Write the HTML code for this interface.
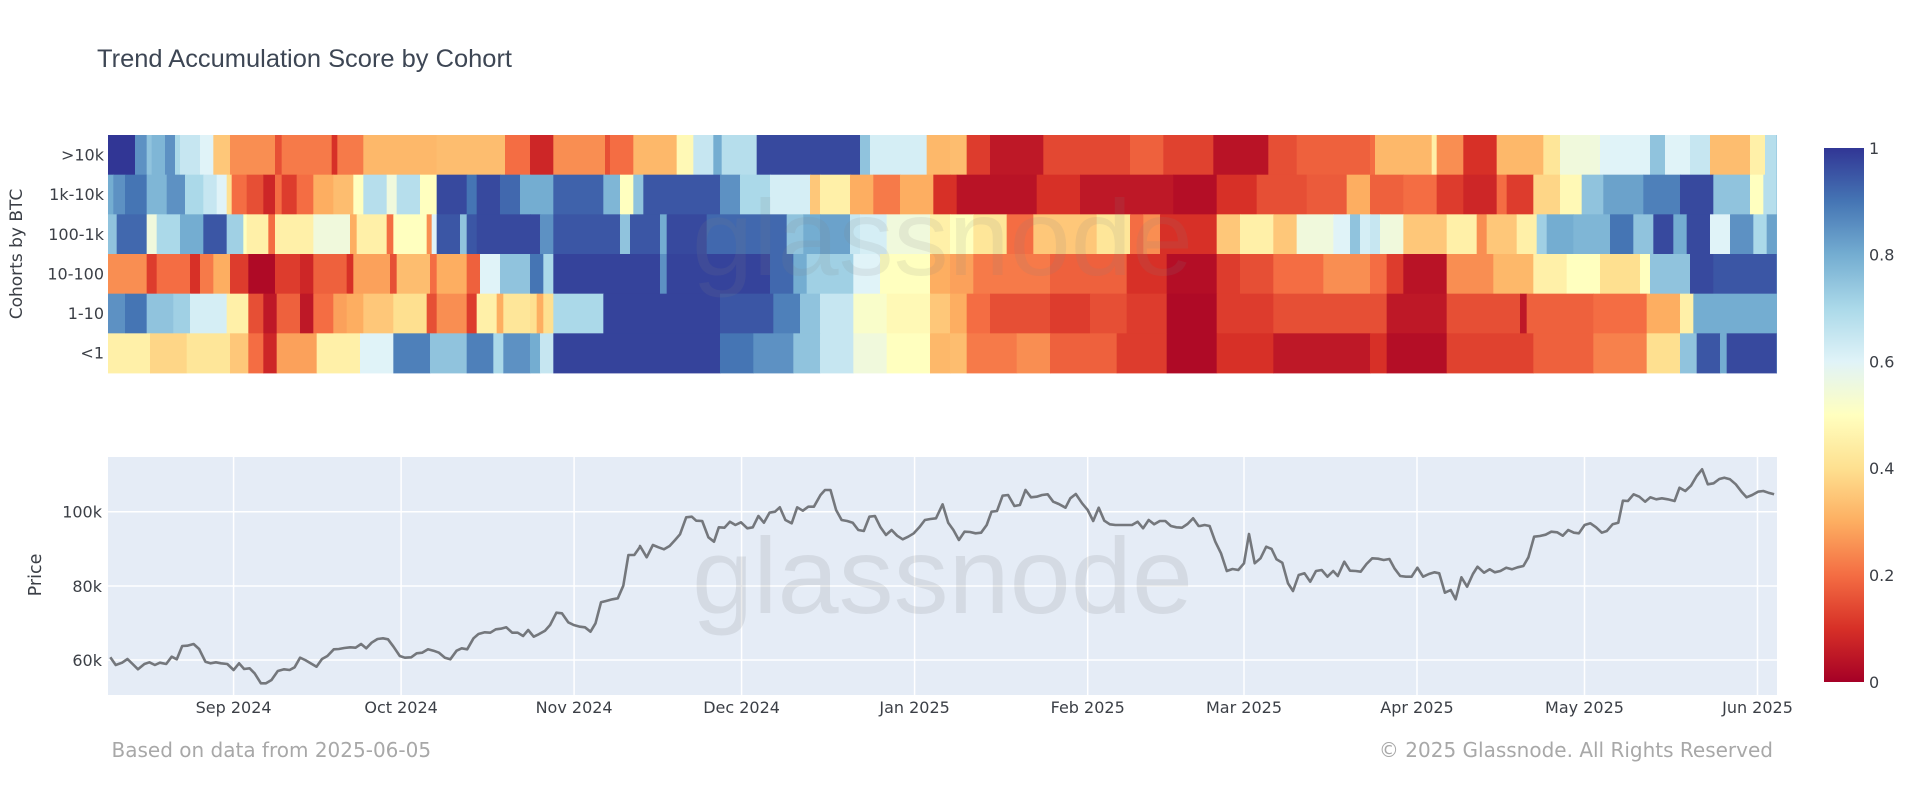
<!DOCTYPE html>
<html><head><meta charset="utf-8"><style>
html,body{margin:0;padding:0;background:#fff;}
svg{display:block;}
</style></head><body>
<svg id="s" width="1920" height="803" viewBox="0 0 1920 803" xmlns="http://www.w3.org/2000/svg">
<defs>
<linearGradient id="cb" x1="0" y1="0" x2="0" y2="1">
<stop offset="0" stop-color="rgb(49,54,149)"/>
<stop offset="0.1" stop-color="rgb(69,117,180)"/>
<stop offset="0.2" stop-color="rgb(116,173,209)"/>
<stop offset="0.3" stop-color="rgb(171,217,233)"/>
<stop offset="0.4" stop-color="rgb(224,243,248)"/>
<stop offset="0.5" stop-color="rgb(255,255,191)"/>
<stop offset="0.6" stop-color="rgb(254,224,144)"/>
<stop offset="0.7" stop-color="rgb(253,174,97)"/>
<stop offset="0.8" stop-color="rgb(244,109,67)"/>
<stop offset="0.9" stop-color="rgb(215,48,39)"/>
<stop offset="1" stop-color="rgb(165,0,38)"/>
</linearGradient>
<clipPath id="pc"><rect x="108" y="457" width="1669" height="238"/></clipPath>
<clipPath id="hc"><rect x="108" y="135" width="1669" height="238"/></clipPath>
</defs>
<rect width="1920" height="803" fill="#fff"/>

<text x="97" y="67" font-family="Liberation Sans, sans-serif" font-size="25" fill="#3d4654" textLength="415" lengthAdjust="spacingAndGlyphs">Trend Accumulation Score by Cohort</text>

<g id="heat"></g>
<text x="692" y="275" clip-path="url(#hc)" font-family="Liberation Sans, sans-serif" font-size="108" fill="#808080" fill-opacity="0.13" textLength="501" lengthAdjust="spacingAndGlyphs">glassnode</text>

<g font-family="DejaVu Sans, sans-serif" font-size="16" fill="#3b3f46" text-anchor="end">
<text x="104" y="160.6">&gt;10k</text>
<text x="104" y="200.2">1k-10k</text>
<text x="104" y="239.8">100-1k</text>
<text x="104" y="279.4">10-100</text>
<text x="104" y="319">1-10</text>
<text x="104" y="358.6">&lt;1</text>
</g>
<text transform="translate(22,254) rotate(-90)" text-anchor="middle" font-family="DejaVu Sans, sans-serif" font-size="17" fill="#3b3f46">Cohorts by BTC</text>

<rect x="108" y="457" width="1669" height="238" fill="#e5ecf6"/>
<g stroke="#ffffff" stroke-width="1.5">
<line x1="108" x2="1777" y1="511.7" y2="511.7"/>
<line x1="108" x2="1777" y1="586" y2="586"/>
<line x1="108" x2="1777" y1="660" y2="660"/>
<line x1="233.6" x2="233.6" y1="457" y2="695"/>
<line x1="401.1" x2="401.1" y1="457" y2="695"/>
<line x1="574.1" x2="574.1" y1="457" y2="695"/>
<line x1="741.6" x2="741.6" y1="457" y2="695"/>
<line x1="914.6" x2="914.6" y1="457" y2="695"/>
<line x1="1087.7" x2="1087.7" y1="457" y2="695"/>
<line x1="1244" x2="1244" y1="457" y2="695"/>
<line x1="1417" x2="1417" y1="457" y2="695"/>
<line x1="1584.5" x2="1584.5" y1="457" y2="695"/>
<line x1="1757.5" x2="1757.5" y1="457" y2="695"/>
</g>
<text x="692" y="613" clip-path="url(#pc)" font-family="Liberation Sans, sans-serif" font-size="108" fill="#000" fill-opacity="0.075" textLength="501" lengthAdjust="spacingAndGlyphs">glassnode</text>
<polyline id="pl" clip-path="url(#pc)" fill="none" stroke="#74777c" stroke-width="2.6" stroke-linejoin="round" points=""/>

<g font-family="DejaVu Sans, sans-serif" font-size="16" fill="#3b3f46" text-anchor="end">
<text x="102" y="517.5">100k</text>
<text x="102" y="591.8">80k</text>
<text x="102" y="665.8">60k</text>
</g>
<text transform="translate(41,575) rotate(-90)" text-anchor="middle" font-family="DejaVu Sans, sans-serif" font-size="17.5" fill="#3b3f46">Price</text>

<g font-family="DejaVu Sans, sans-serif" font-size="16" fill="#3b3f46" text-anchor="middle">
<text x="233.6" y="713">Sep 2024</text>
<text x="401.1" y="713">Oct 2024</text>
<text x="574.1" y="713">Nov 2024</text>
<text x="741.6" y="713">Dec 2024</text>
<text x="914.6" y="713">Jan 2025</text>
<text x="1087.7" y="713">Feb 2025</text>
<text x="1244" y="713">Mar 2025</text>
<text x="1417" y="713">Apr 2025</text>
<text x="1584.5" y="713">May 2025</text>
<text x="1757.5" y="713">Jun 2025</text>
</g>

<rect x="1824" y="148" width="40" height="534" fill="url(#cb)"/>
<g font-family="DejaVu Sans, sans-serif" font-size="16" fill="#3b3f46">
<text x="1869" y="153.8">1</text>
<text x="1869" y="260.6">0.8</text>
<text x="1869" y="367.4">0.6</text>
<text x="1869" y="474.2">0.4</text>
<text x="1869" y="581">0.2</text>
<text x="1869" y="687.8">0</text>
</g>

<text x="111.5" y="757" font-family="DejaVu Sans, sans-serif" font-size="20" fill="#a8a8a8">Based on data from 2025-06-05</text>
<text x="1773" y="757" text-anchor="end" font-family="DejaVu Sans, sans-serif" font-size="20" fill="#a8a8a8">© 2025 Glassnode. All Rights Reserved</text>
</svg>
<script>
(function(){
const NS="http://www.w3.org/2000/svg";
const CS=[[165,0,38],[215,48,39],[244,109,67],[253,174,97],[254,224,144],[255,255,191],[224,243,248],[171,217,233],[116,173,209],[69,117,180],[49,54,149]];
function col(v){v=Math.max(0,Math.min(1,v));const t=v*10;const i=Math.min(9,Math.floor(t));const f=t-i;const a=CS[i],b=CS[i+1];
return "rgb("+Math.round(a[0]+(b[0]-a[0])*f)+","+Math.round(a[1]+(b[1]-a[1])*f)+","+Math.round(a[2]+(b[2]-a[2])*f)+")";}
const H=[
{o:100,r:[
[[105,1],[140,.85],[155,.75],[195,.78],[225,.85],[240,.7],[300,.65],[340,.6],[390,.35],[525,.25],[545,.15],[695,.22],[712,.1],[790,.22],[1010,.32],[1215,.33],[1290,.2]],
[[40,.8],[75,.85],[140,.9],[200,.78],[255,.85],[310,.7],[350,.65],[380,.6],[395,.4],[440,.2],[490,.15],[525,.08],[545,.2],[590,.12],[640,.2],[700,.3],[760,.33],[790,.5],[860,.68],[890,.55],[960,.68],[1010,.5],[1100,.97],[1130,.9],[1200,.97],[1260,.92],[1290,.8]],
[[50,.75],[140,.92],[170,.55],[240,.7],[310,.8],[380,.95],[430,.72],[440,.5],[505,.45],[525,.2],[640,.45],[750,.55],[770,.3],[860,.45],[880,.2],[980,.5],[995,.25],[1010,.6],[1080,.95],[1100,.75],[1130,.95],[1290,.97]],
[[140,.25],[170,.12],[270,.2],[300,.1],[340,.22],[390,.3],[445,.12],[525,.02],[600,.12],[640,.08],[740,.18],[760,.1],[870,.28],[890,.15],[990,.33],[1010,.2],[1100,.3],[1140,.18],[1200,.6],[1290,.75]],
[[75,.85],[140,.9],[220,.75],[270,.72],[380,.62],[445,.45],[490,.15],[530,.05],[600,.18],[640,.05],[700,.2],[740,.28],[790,.3],[880,.35],[980,.4],[1010,.15],[1100,.25],[1130,.12],[1190,.45],[1210,.3],[1290,.42]],
[[150,.45],[260,.38],[390,.42],[445,.35],[490,.2],[530,.08],[650,.28],[780,.45],[880,.6],[990,.88],[1100,.75],[1180,.88],[1210,.7],[1290,.85]]
]},
{o:520,r:[
[[20,.25],[100,.08],[255,.25],[270,.15],[340,.2],[470,.32],[520,.48],[580,.65],[605,.8],[710,.68],[1020,.97],[1050,.75],[1220,.62],[1290,.32]],
[[100,.8],[250,.93],[300,.78],[340,.5],[370,.75],[600,.95],[660,.85],[750,.7],[870,.62],[900,.35],[990,.45],[1060,.3],[1140,.22],[1240,.3],[1290,.1]],
[[60,.97],[100,.85],[300,.95],[330,.75],[420,.95],[440,.8],[560,.97],[800,.92],[850,.75],[900,.8],[990,.82],[1020,.65],[1100,.62],[1230,.55],[1290,.45]],
[[30,.8],[70,.9],[100,.7],[420,.98],[440,.85],[750,.98],[820,.92],[860,.8],[1000,.72],[1080,.6],[1230,.5],[1290,.3]],
[[50,.4],[70,.3],[100,.4],[250,.7],[600,.98],[760,.95],[840,.88],[900,.75],[1000,.65],[1100,.52],[1230,.48],[1290,.35]],
[[60,.8],[100,.65],[600,.98],[700,.9],[820,.85],[900,.75],[1000,.65],[1100,.55],[1230,.5],[1290,.32]]
]},
{o:940,r:[
[[80,.33],[150,.12],[310,.05],[570,.14],[670,.18],[820,.13],[985,.04],[1070,.15],[1290,.18]],
[[50,.1],[290,.04],[420,.1],[700,.05],[830,.03],[950,.1],[1100,.15],[1220,.17],[1290,.3]],
[[100,.5],[200,.42],[280,.2],[470,.35],[570,.42],[610,.2],[660,.25],[830,.1],[900,.35],[1000,.45],[1070,.35],[1180,.55],[1230,.6],[1260,.75],[1290,.62]],
[[100,.28],[330,.22],[560,.18],[680,.1],[830,.03],[900,.12],[1000,.15],[1150,.2],[1290,.25]],
[[80,.3],[150,.2],[330,.15],[450,.12],[560,.15],[680,.12],[830,.02],[1000,.12],[1290,.15]],
[[80,.33],[230,.22],[330,.25],[530,.18],[680,.12],[830,.02],[1000,.1],[1290,.05]]
]},
{o:1360,r:[
[[45,.2],[215,.32],[230,.45],[310,.25],[410,.1],[550,.32],[600,.42],[720,.55],[870,.6],[915,.75],[990,.6],[1050,.65],[1170,.33],[1215,.45],[1250,.68]],
[[130,.18],[230,.2],[310,.12],[410,.08],[440,.2],[520,.12],[600,.38],[665,.48],[730,.75],[850,.82],[960,.88],[1060,.97],[1170,.75],[1210,.5],[1250,.68]],
[[60,.65],[130,.55],[260,.35],[350,.45],[380,.25],[470,.35],[530,.45],[560,.72],[640,.8],[750,.78],[820,.9],[880,.75],[940,.97],[980,.8],[1050,.97],[1110,.6],[1180,.85],[1220,.7],[1250,.82]],
[[80,.2],[130,.12],[260,.04],[400,.25],[520,.32],[620,.45],[720,.5],[840,.4],[870,.5],[990,.75],[1060,.97],[1250,.95]],
[[80,.15],[260,.05],[480,.15],[500,.05],[700,.18],[860,.2],[960,.3],[1000,.45],[1250,.8]],
[[80,.1],[260,.03],[520,.13],[700,.18],[860,.23],[960,.4],[1010,.75],[1080,.95],[1100,.8],[1250,.97]]
]}
];
const g=document.getElementById('heat');
const top=135,rh=(373-135)/6,R=1777;
for(let r=0;r<6;r++){let cur=108;
 for(const z of H){for(const s of z.r[r]){let re=Math.min(R,z.o+s[0]/3);if(re<=cur)continue;
  const el=document.createElementNS(NS,'rect');
  el.setAttribute('x',cur.toFixed(2));el.setAttribute('y',(top+r*rh).toFixed(2));
  el.setAttribute('width',(Math.min(R,re+0.6)-cur).toFixed(2));el.setAttribute('height',(rh+0.4).toFixed(2));
  el.setAttribute('fill',col(s[1]));g.appendChild(el);cur=re;}}
 if(cur<R){const el=document.createElementNS(NS,'rect');el.setAttribute('x',cur);el.setAttribute('y',top+r*rh);el.setAttribute('width',R-cur);el.setAttribute('height',rh);el.setAttribute('fill',col(.8));g.appendChild(el);}
}
const P7=[[262,652],[275,675],[290,668],[303,657],[315,672],[328,688],[343,672],[355,667],[368,675],[380,668],[395,672],[408,650],[420,658],[433,618],[445,617],[460,612],[473,627],[488,665],[500,670],[513,667],[525,670],[540,672],[555,690],[568,670],[580,687],[593,685],[605,700],[620,730],[632,730],[645,720],[660,693],[675,688],[688,690],[700,682],[713,653],[725,660],[738,670],[752,680],[765,657],[778,648],[793,628],[805,627],[818,624],[832,622],[845,623],[858,612],[870,625],[883,608],[897,597],[910,595],[922,598],[935,620],[950,648],[962,653],[977,652],[990,640],[1003,638],[1017,628],[1030,632],[1043,638],[1057,653],[1070,658],[1085,632],[1097,625],[1110,628],[1125,595],[1137,582],[1152,577],[1165,578],[1178,568],[1190,566],[1203,562],[1217,578],[1230,578],[1243,588],[1255,570],[1268,590],[1280,583],[1295,572],[1307,555],[1322,518],[1335,520],[1350,547],[1363,555],[1378,560],[1390,562],[1403,575],[1415,550],[1428,487],[1440,483],[1455,478],[1468,475],[1481,437],[1493,345],[1507,345],[1520,322]];
const P8=[[0,318],[18,352],[35,315],[50,322],[65,328],[80,318],[95,300],[108,283],[125,232],[140,230],[152,242],[168,243],[185,292],[200,305],[213,262],[228,263],[243,245],[258,255],[273,247],[290,265],[305,262],[320,228],[335,248],[350,218],[365,215],[378,202],[393,240],[410,250],[425,202],[440,212],[455,200],[470,200],[488,165],[500,150],[515,150],[530,210],[545,240],[560,243],[575,248],[590,270],[605,273],[620,230],[635,228],[650,262],[665,285],[680,270],[695,287],[710,298],[725,290],[740,280],[755,262],[770,240],[785,237],[800,235],[818,193],[833,248],[847,270],[862,300],[877,275],[892,276],[907,280],[922,278],[937,255],[950,215],[965,213],[980,167],[995,165],[1012,198],[1027,195],[1042,150],[1057,172],[1072,170],[1087,165],[1102,163],[1117,185],[1132,192],[1150,203],[1163,175],[1178,162],[1195,190],[1210,210],[1225,243],[1240,203],[1255,242],[1270,253],[1285,255],[1300,255],[1315,255],[1330,255],[1345,245],[1360,265],[1375,240],[1390,253],[1405,243],[1420,243],[1435,258],[1450,262],[1465,263],[1480,252],[1495,235],[1510,258]];
const P9=[[0,258],[12,255],[25,258],[40,305],[55,340],[70,393],[85,387],[100,390],[115,370],[128,282],[143,370],[158,355],[173,320],[187,327],[200,358],[215,368],[230,430],[243,453],[258,405],[273,400],[288,425],[303,393],[318,390],[333,410],[348,393],[360,408],[377,365],[392,392],[407,393],[420,395],[435,372],[450,355],[465,356],[480,360],[495,357],[508,385],[523,408],[538,410],[553,410],[568,383],[583,410],[598,402],[613,397],[625,400],[640,458],[655,450],[668,478],[683,412],[698,440],[713,402],[725,380],[742,398],[757,388],[770,397],[785,393],[800,383],[815,388],[830,382],[845,378],[858,352],[873,290],[888,288],[903,284],[918,275],[933,277],[948,287],[962,270],[977,278],[990,280],[1005,255],[1020,250],[1035,262],[1050,278],[1063,273],[1078,253],[1093,248],[1105,182],[1118,183],[1133,163],[1148,170],[1163,185],[1177,172],[1192,178],[1207,175],[1222,178],[1240,183],[1253,143],[1268,153],[1283,137],[1298,108],[1312,88],[1327,133],[1342,130],[1357,117],[1370,113],[1385,118],[1400,133],[1415,155],[1428,172],[1443,165],[1458,155],[1472,153],[1485,158],[1500,163]];
const pts=[];
P7.forEach(p=>{const X=p[0]/2.376;if(X<640)pts.push([X,440+p[1]/3]);});
P8.forEach(p=>{const X=640+p[0]/2.703;if(X>=640&&X<1200)pts.push([X,440+p[1]/3]);});
P9.forEach(p=>{pts.push([1200+p[0]/2.613,440+p[1]/3]);});
document.getElementById('pl').setAttribute('points',pts.map(p=>p[0].toFixed(1)+","+p[1].toFixed(1)).join(" "));
})();
</script>
</body></html>
